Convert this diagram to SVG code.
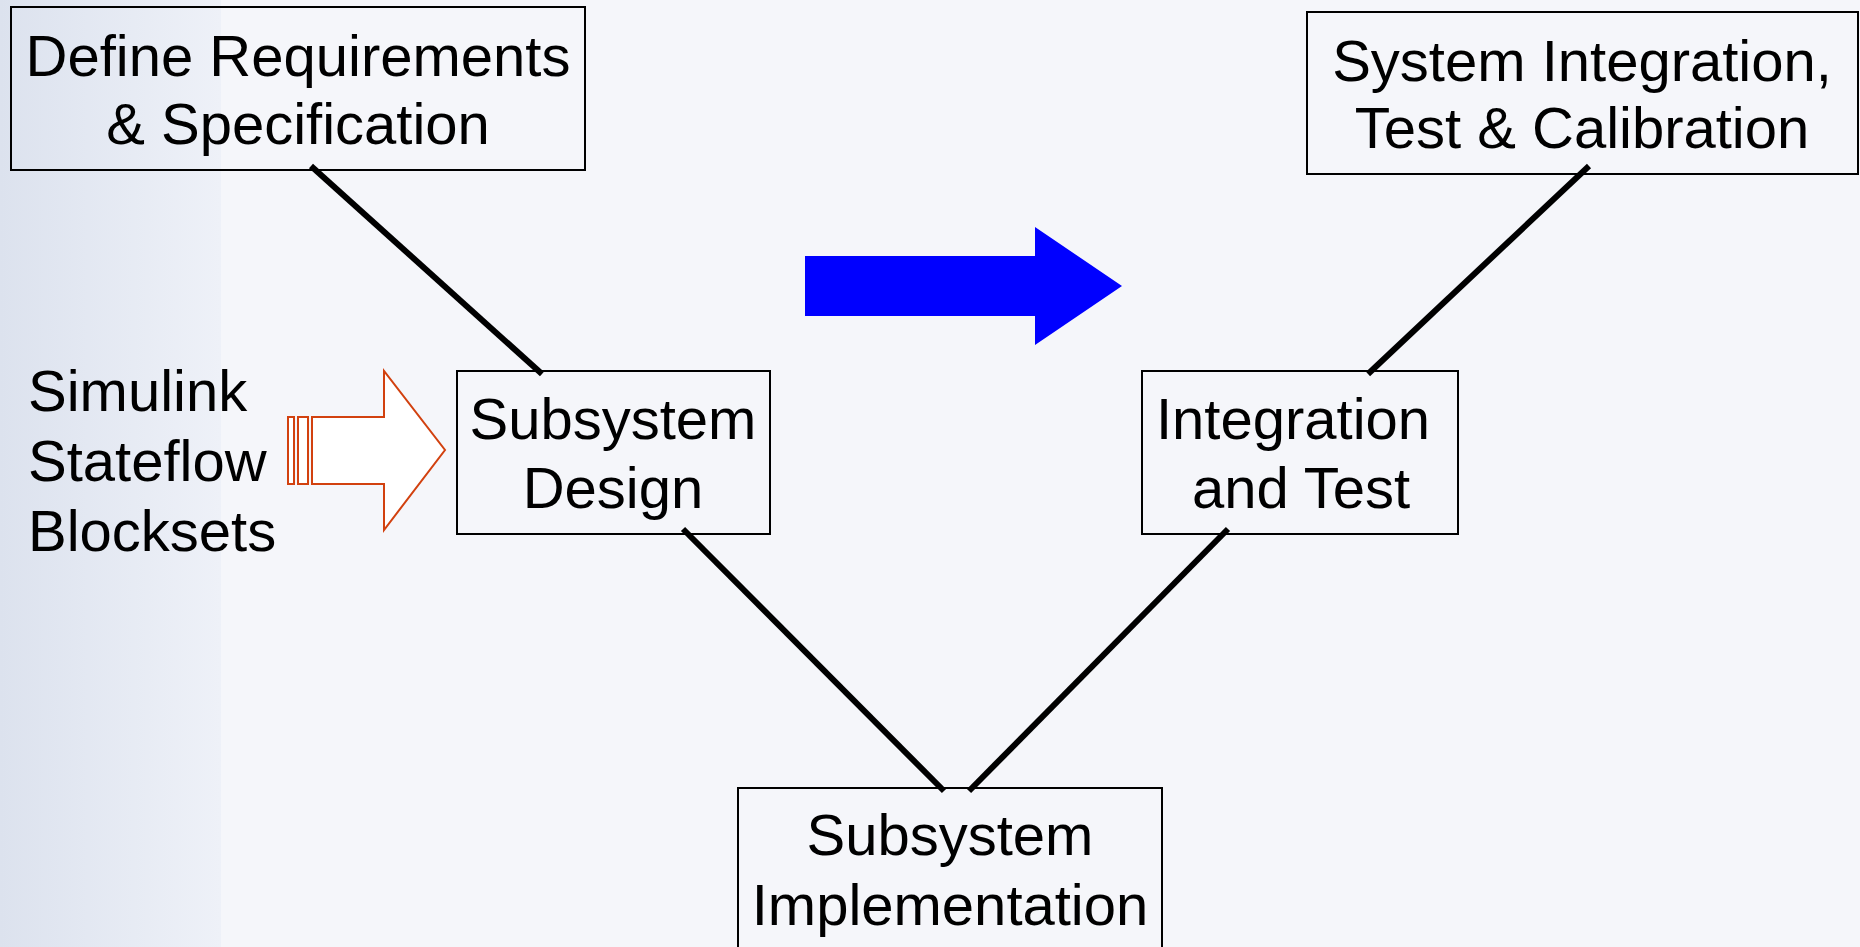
<svg xmlns="http://www.w3.org/2000/svg" width="1860" height="947" viewBox="0 0 1860 947">
  <defs>
    <linearGradient id="sideBand" x1="0" y1="0" x2="1" y2="0">
      <stop offset="0" stop-color="#DCE2EE"/>
      <stop offset="1" stop-color="#EEF1F8"/>
    </linearGradient>
    <style>
      .box { fill: none; stroke: #000000; stroke-width: 2; }
      .lbl { font-family: "Liberation Sans", Arial, sans-serif; font-size: 58px; fill: #000000; text-anchor: middle; }
      .side { font-family: "Liberation Sans", Arial, sans-serif; font-size: 58px; fill: #000000; }
      .link { stroke: #000000; stroke-width: 6; fill: none; }
      .tool { fill: #FFFFFF; stroke: #D2410F; stroke-width: 2; }
    </style>
  </defs>

  <!-- background -->
  <rect x="0" y="0" width="1860" height="947" fill="#F5F6FA"/>
  <rect x="0" y="0" width="221" height="947" fill="url(#sideBand)"/>

  <!-- V-model connectors -->
  <g id="connectors">
    <line class="link" x1="311" y1="166" x2="542" y2="374"/>
    <line class="link" x1="683" y1="529" x2="944" y2="791"/>
    <line class="link" x1="969" y1="791" x2="1228" y2="529"/>
    <line class="link" x1="1368" y1="374" x2="1589" y2="166"/>
  </g>

  <g id="define-requirements">
    <rect class="box" x="11" y="7" width="574" height="163"/>
    <text class="lbl" x="298" y="76">Define Requirements</text>
    <text class="lbl" x="298" y="144">&amp; Specification</text>
  </g>

  <g id="system-integration">
    <rect class="box" x="1307" y="12" width="551" height="162"/>
    <text class="lbl" x="1582" y="81">System Integration,</text>
    <text class="lbl" x="1582" y="148">Test &amp; Calibration</text>
  </g>

  <g id="subsystem-design">
    <rect class="box" x="457" y="371" width="313" height="163"/>
    <text class="lbl" x="613" y="439">Subsystem</text>
    <text class="lbl" x="613" y="508">Design</text>
  </g>

  <g id="integration-test">
    <rect class="box" x="1142" y="371" width="316" height="163"/>
    <text class="lbl" x="1293" y="439">Integration</text>
    <text class="lbl" x="1301" y="508">and Test</text>
  </g>

  <g id="subsystem-implementation">
    <rect class="box" x="738" y="788" width="424" height="200"/>
    <text class="lbl" x="950" y="855">Subsystem</text>
    <text class="lbl" x="950" y="925">Implementation</text>
  </g>

  <!-- tools feeding the design step -->
  <g id="tools">
    <text class="side" x="28" y="411">Simulink</text>
    <text class="side" x="28" y="481">Stateflow</text>
    <text class="side" x="28" y="551">Blocksets</text>
    <rect class="tool" x="288" y="417" width="6" height="67"/>
    <rect class="tool" x="298" y="417" width="10" height="67"/>
    <polygon class="tool" points="312,417 384,417 384,371 445,450 384,530 384,484 312,484"/>
  </g>

  <!-- process direction arrow -->
  <g id="flow-arrow">
    <polygon fill="#0000FF" points="805,256 1035,256 1035,227 1122,286 1035,345 1035,316 805,316"/>
  </g>
</svg>
